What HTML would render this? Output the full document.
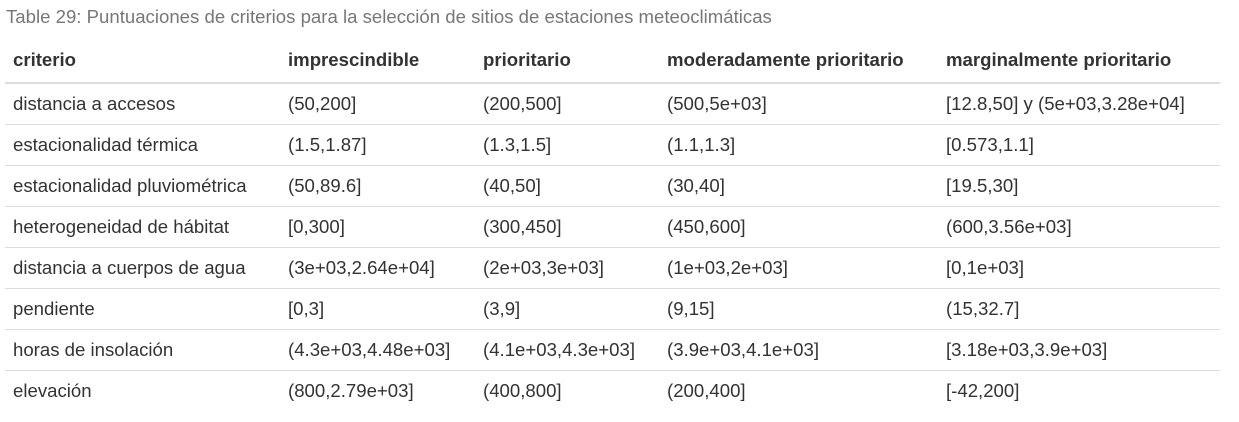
<!DOCTYPE html>
<html><head><meta charset="utf-8"><style>
body{margin:0;width:1239px;height:422px;background:#fff;font-family:"Liberation Sans",sans-serif;color:#333;overflow:hidden}
.cap{position:absolute;left:6px;top:6px;font-size:18.6px;color:#777;white-space:nowrap}
table{position:absolute;left:5px;top:38px;width:1215px;border-collapse:collapse;font-size:18.6px;table-layout:fixed}
th{text-align:left;font-weight:bold;height:44px;padding:0 8px;border-bottom:2px solid #ddd;vertical-align:middle;white-space:nowrap}
td{height:40px;padding:0 8px;border-top:1px solid #ddd;vertical-align:middle;white-space:nowrap}
tr.r1 td{border-top:none}
</style></head><body>
<div class="cap">Table 29: Puntuaciones de criterios para la selección de sitios de estaciones meteoclimáticas</div>
<table>
<colgroup><col style="width:275px"><col style="width:195px"><col style="width:184px"><col style="width:279px"><col></colgroup>
<tr><th>criterio</th><th>imprescindible</th><th>prioritario</th><th>moderadamente prioritario</th><th>marginalmente prioritario</th></tr>
<tr class="r1"><td>distancia a accesos</td><td>(50,200]</td><td>(200,500]</td><td>(500,5e+03]</td><td>[12.8,50] y (5e+03,3.28e+04]</td></tr>
<tr><td>estacionalidad térmica</td><td>(1.5,1.87]</td><td>(1.3,1.5]</td><td>(1.1,1.3]</td><td>[0.573,1.1]</td></tr>
<tr><td>estacionalidad pluviométrica</td><td>(50,89.6]</td><td>(40,50]</td><td>(30,40]</td><td>[19.5,30]</td></tr>
<tr><td>heterogeneidad de hábitat</td><td>[0,300]</td><td>(300,450]</td><td>(450,600]</td><td>(600,3.56e+03]</td></tr>
<tr><td>distancia a cuerpos de agua</td><td>(3e+03,2.64e+04]</td><td>(2e+03,3e+03]</td><td>(1e+03,2e+03]</td><td>[0,1e+03]</td></tr>
<tr><td>pendiente</td><td>[0,3]</td><td>(3,9]</td><td>(9,15]</td><td>(15,32.7]</td></tr>
<tr><td>horas de insolación</td><td>(4.3e+03,4.48e+03]</td><td>(4.1e+03,4.3e+03]</td><td>(3.9e+03,4.1e+03]</td><td>[3.18e+03,3.9e+03]</td></tr>
<tr><td>elevación</td><td>(800,2.79e+03]</td><td>(400,800]</td><td>(200,400]</td><td>[-42,200]</td></tr>
</table>
</body></html>
